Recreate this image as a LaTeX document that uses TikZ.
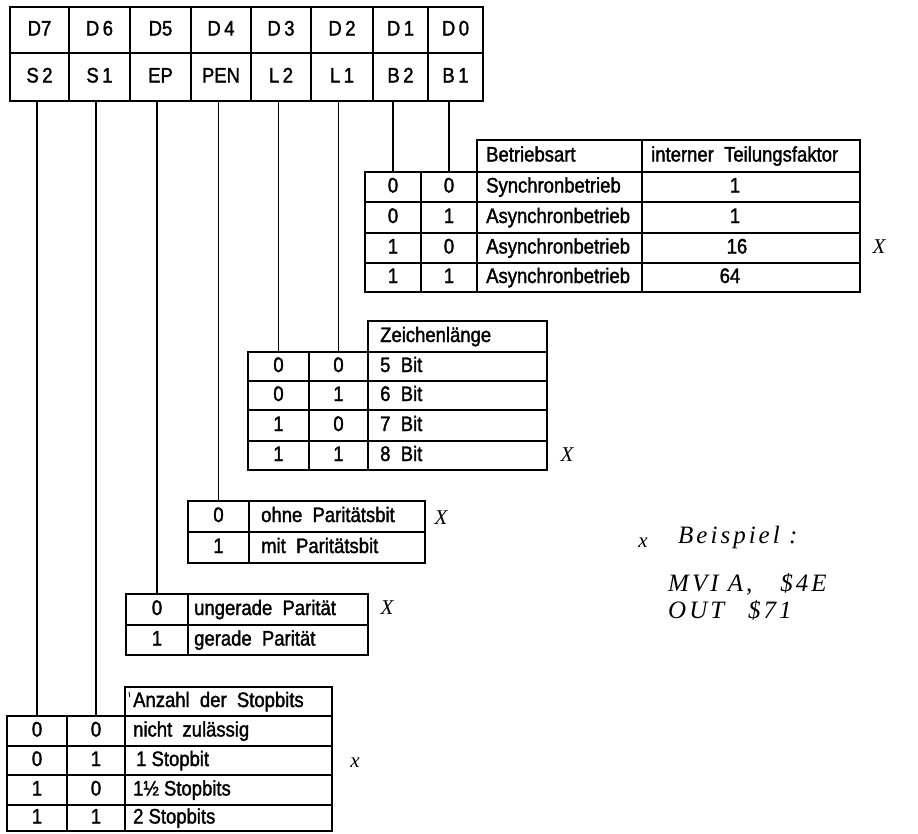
\documentclass[tikz,border=0pt]{standalone}
\usepackage{fontspec}
\setmainfont{Liberation Sans}[FakeStretch=0.88, FakeBold=1.6]
\newfontfamily\handfont{Liberation Serif}[LetterSpace=12]
\usetikzlibrary{fit}
\newcommand\mkcell[5]{\node[cellbox, fit={(#2,#3) (#4,#5)}] (#1) {};}
\begin{document}
\begin{tikzpicture}[x=1pt,y=-1pt,
  cellbox/.style={draw, line width=1.7pt, inner sep=0pt, outer sep=0pt},
  lbl/.style={inner sep=0pt, anchor=west, font=\fontsize{21}{21}\selectfont,
    text height=15pt, text depth=4pt},
  ctr/.style={lbl, anchor=center},
  conn/.style={line width=1.1pt},
  handmark/.style={inner sep=0pt, font=\handfont\itshape\fontsize{21}{21}\selectfont},
  handtext/.style={inner sep=0pt, anchor=west, font=\handfont\itshape\fontsize{25}{25}\selectfont}]
\useasboundingbox[fill=white] (0,0) rectangle (918,833);

% register
\mkcell{d7}{10}{7}{69}{53}  \node[ctr] (td7) at (d7) {D7};
\mkcell{d6}{69}{7}{130}{53} \node[ctr] (td6) at (d6) {D\,6};
\mkcell{d5}{130}{7}{191}{53} \node[ctr] (td5) at (d5) {D5};
\mkcell{d4}{191}{7}{251}{53} \node[ctr] (td4) at (d4) {D\,4};
\mkcell{d3}{251}{7}{311}{53} \node[ctr] (td3) at (d3) {D\,3};
\mkcell{d2}{311}{7}{373}{53} \node[ctr] (td2) at (d2) {D\,2};
\mkcell{d1}{373}{7}{428}{53} \node[ctr] (td1) at (d1) {D\,1};
\mkcell{d0}{428}{7}{483}{53} \node[ctr] (td0) at (d0) {D\,0};
\mkcell{s2}{10}{53}{69}{101} \node[ctr] (ts2r) at (s2) {S\,2};
\mkcell{s1}{69}{53}{130}{101} \node[ctr] (ts1r) at (s1) {S\,1};
\mkcell{ep}{130}{53}{191}{101} \node[ctr] (tep) at (ep) {EP};
\mkcell{pen}{191}{53}{251}{101} \node[ctr] (tpen) at (pen) {PEN};
\mkcell{l2}{251}{53}{311}{101} \node[ctr] (tl2) at (l2) {L\,2};
\mkcell{l1}{311}{53}{373}{101} \node[ctr] (tl1) at (l1) {L\,1};
\mkcell{b2}{373}{53}{428}{101} \node[ctr] (tb2) at (b2) {B\,2};
\mkcell{b1}{428}{53}{483}{101} \node[ctr] (tb1) at (b1) {B\,1};

% Betriebsart table
\mkcell{bh1}{477}{140}{642}{172}
\mkcell{bh2}{642}{140}{860}{172}
\node[lbl] (tbh1) at ([xshift=9pt]bh1.west) {Betriebsart};
\node[lbl] (tbh2) at ([xshift=9pt]bh2.west) {interner\ \ Teilungsfaktor};
\mkcell{ba1a}{365}{172}{421}{202} \node[ctr] (v11) at (ba1a) {0};
\mkcell{ba1b}{421}{172}{477}{202} \node[ctr] (v12) at (ba1b) {0};
\mkcell{ba1c}{477}{172}{642}{202}
\mkcell{ba1d}{642}{172}{860}{202}
\mkcell{ba2a}{365}{202}{421}{233} \node[ctr] (v21) at (ba2a) {0};
\mkcell{ba2b}{421}{202}{477}{233} \node[ctr] (v22) at (ba2b) {1};
\mkcell{ba2c}{477}{202}{642}{233}
\mkcell{ba2d}{642}{202}{860}{233}
\mkcell{ba3a}{365}{233}{421}{263} \node[ctr] (v31) at (ba3a) {1};
\mkcell{ba3b}{421}{233}{477}{263} \node[ctr] (v32) at (ba3b) {0};
\mkcell{ba3c}{477}{233}{642}{263}
\mkcell{ba3d}{642}{233}{860}{263}
\mkcell{ba4a}{365}{263}{421}{292} \node[ctr] (v41) at (ba4a) {1};
\mkcell{ba4b}{421}{263}{477}{292} \node[ctr] (v42) at (ba4b) {1};
\mkcell{ba4c}{477}{263}{642}{292}
\mkcell{ba4d}{642}{263}{860}{292}
\node[lbl] (tba1) at ([xshift=9pt]ba1c.west) {Synchronbetrieb};
\node[lbl] (tba2) at ([xshift=9pt]ba2c.west) {Asynchronbetrieb};
\node[lbl] (tba3) at ([xshift=9pt]ba3c.west) {Asynchronbetrieb};
\node[lbl] (tba4) at ([xshift=9pt]ba4c.west) {Asynchronbetrieb};
\node[ctr] (fba1) at ([xshift=-16pt]ba1d.center) {1};
\node[ctr] (fba2) at ([xshift=-16pt]ba2d.center) {1};
\node[ctr] (fba3) at ([xshift=-14pt]ba3d.center) {16};
\node[ctr] (fba4) at ([xshift=-21pt]ba4d.center) {64};

% Zeichenlaenge table
\mkcell{zh}{368}{321}{547}{352}
\node[lbl] (tzh) at ([xshift=12pt]zh.west) {Zeichenlänge};
\mkcell{za1}{248}{352}{309}{381} \node[ctr] (z11) at (za1) {0};
\mkcell{zb1}{309}{352}{368}{381} \node[ctr] (z12) at (zb1) {0};
\mkcell{zc1}{368}{352}{547}{381}
\mkcell{za2}{248}{381}{309}{410} \node[ctr] (z21) at (za2) {0};
\mkcell{zb2}{309}{381}{368}{410} \node[ctr] (z22) at (zb2) {1};
\mkcell{zc2}{368}{381}{547}{410}
\mkcell{za3}{248}{410}{309}{441} \node[ctr] (z31) at (za3) {1};
\mkcell{zb3}{309}{410}{368}{441} \node[ctr] (z32) at (zb3) {0};
\mkcell{zc3}{368}{410}{547}{441}
\mkcell{za4}{248}{441}{309}{470} \node[ctr] (z41) at (za4) {1};
\mkcell{zb4}{309}{441}{368}{470} \node[ctr] (z42) at (zb4) {1};
\mkcell{zc4}{368}{441}{547}{470}
\node[lbl] (tz1) at ([xshift=12pt]zc1.west) {5\ \ Bit};
\node[lbl] (tz2) at ([xshift=12pt]zc2.west) {6\ \ Bit};
\node[lbl] (tz3) at ([xshift=12pt]zc3.west) {7\ \ Bit};
\node[lbl] (tz4) at ([xshift=12pt]zc4.west) {8\ \ Bit};

% Paritaetsbit table
\mkcell{pa1}{188}{501}{249}{532} \node[ctr] (p1) at (pa1) {0};
\mkcell{pb1}{249}{501}{425}{532}
\mkcell{pa2}{188}{532}{249}{563} \node[ctr] (p2) at (pa2) {1};
\mkcell{pb2}{249}{532}{425}{563}
\node[lbl] (tp1) at ([xshift=12pt]pb1.west) {ohne\ \ Paritätsbit};
\node[lbl] (tp2) at ([xshift=12pt]pb2.west) {mit\ \ Paritätsbit};

% Paritaet table
\mkcell{ea1}{126}{594}{188}{625} \node[ctr] (e1) at (ea1) {0};
\mkcell{eb1}{188}{594}{368}{625}
\mkcell{ea2}{126}{625}{188}{655} \node[ctr] (e2) at (ea2) {1};
\mkcell{eb2}{188}{625}{368}{655}
\node[lbl] (te1) at ([xshift=6pt]eb1.west) {ungerade\ \ Parität};
\node[lbl] (te2) at ([xshift=6pt]eb2.west) {gerade\ \ Parität};

% Stopbits table
\mkcell{sh}{125}{687}{332}{716}
\node[lbl] (tsh) at ([xshift=8pt]sh.west) {Anzahl\ \ der\ \ Stopbits};
\mkcell{sa1}{7}{716}{67}{746} \node[ctr] (q11) at (sa1) {0};
\mkcell{sb1}{67}{716}{125}{746} \node[ctr] (q12) at (sb1) {0};
\mkcell{sc1}{125}{716}{332}{746}
\mkcell{sa2}{7}{746}{67}{775} \node[ctr] (q21) at (sa2) {0};
\mkcell{sb2}{67}{746}{125}{775} \node[ctr] (q22) at (sb2) {1};
\mkcell{sc2}{125}{746}{332}{775}
\mkcell{sa3}{7}{775}{67}{805} \node[ctr] (q31) at (sa3) {1};
\mkcell{sb3}{67}{775}{125}{805} \node[ctr] (q32) at (sb3) {0};
\mkcell{sc3}{125}{775}{332}{805}
\mkcell{sa4}{7}{805}{67}{831} \node[ctr] (q41) at (sa4) {1};
\mkcell{sb4}{67}{805}{125}{831} \node[ctr] (q42) at (sb4) {1};
\mkcell{sc4}{125}{805}{332}{831}
\node[lbl] (ts1) at ([xshift=8pt]sc1.west) {nicht\ \ zulässig};
\node[lbl] (ts2) at ([xshift=11pt]sc2.west) {1 Stopbit};
\node[lbl] (ts3) at ([xshift=8pt]sc3.west) {1½ Stopbits};
\node[lbl] (ts4) at ([xshift=8pt]sc4.west) {2 Stopbits};
\draw[line width=0.9pt] ([xshift=4pt,yshift=-5pt]sh.north west) -- ++(0.8,5);

% connectors
\draw[conn] (sa1.north) -- (sa1.north |- s2.south);
\draw[conn] (sb1.north) -- (sb1.north |- s1.south);
\draw[conn] (ea1.north) -- (ea1.north |- ep.south);
\draw[conn] (pa1.north) -- (pa1.north |- pen.south);
\draw[conn] (za1.north) -- (za1.north |- l2.south);
\draw[conn] (zb1.north) -- (zb1.north |- l1.south);
\draw[conn] (ba1a.north) -- (ba1a.north |- b2.south);
\draw[conn] (ba1b.north) -- (ba1b.north |- b1.south);

% handwritten marks
\node[handmark] (m1) at (879,247) {X};
\node[handmark] (m2) at (567,455) {X};
\node[handmark] (m3) at (441,518) {X};
\node[handmark] (m4) at (387,608) {X};
\node[handmark] (m5) at (355,763) {x};
\node[handmark] (m6) at (643,543) {x};
\node[handtext] (n1) at (678,537) {Beispiel :};
\node[handtext] (n2) at (668,584) {MVI A,\hspace{28pt}\$4E};
\node[handtext] (n3) at (668,610) {OUT\hspace{24pt}\$71};
\end{tikzpicture}
\end{document}
